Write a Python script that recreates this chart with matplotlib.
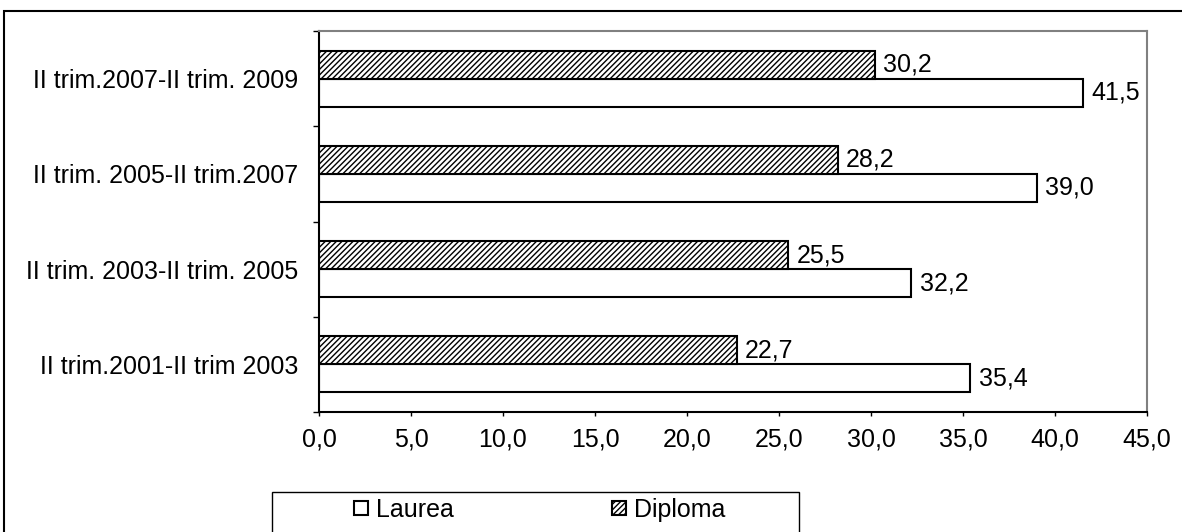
import numpy as np
import matplotlib.pyplot as plt
from matplotlib.patches import Rectangle

plt.rcParams['font.family'] = ['Liberation Sans', 'DejaVu Sans']
plt.rcParams['hatch.linewidth'] = 1.0

periodi = ['II trim.2001-II trim 2003', 'II trim. 2003-II trim. 2005',
           'II trim. 2005-II trim.2007', 'II trim.2007-II trim. 2009']
laurea = [35.4, 32.2, 39.0, 41.5]
diploma = [22.7, 25.5, 28.2, 30.2]
xticks = [0, 5, 10, 15, 20, 25, 30, 35, 40, 45]

FS = 18
W, H = 1182, 532

fig = plt.figure(figsize=(W/100, H/100), dpi=100)
ax = fig.add_axes([319/W, 1-412/H, 828/W, 381/H])

y = np.arange(len(periodi))
h = 0.295
bl = ax.barh(y - h/2, laurea, height=h, color='white', edgecolor='black', lw=1.5, label='Laurea')
bd = ax.barh(y + h/2, diploma, height=h, color='white', edgecolor='black', lw=1.5,
             hatch='//////', label='Diploma')

for yy, v in zip(y, laurea):
    ax.text(v + 0.45, yy - h/2, ('%.1f' % v).replace('.', ','), va='center', ha='left', fontsize=FS)
for yy, v in zip(y, diploma):
    ax.text(v + 0.45, yy + h/2, ('%.1f' % v).replace('.', ','), va='center', ha='left', fontsize=FS)

ax.set_xlim(0, 45)
ax.set_ylim(-0.5, 3.5)
ax.set_xticks(xticks)
ax.set_xticklabels([('%.1f' % t).replace('.', ',') for t in xticks], fontsize=FS)
ax.set_yticks(np.arange(-0.5, 4, 1), minor=False)
ax.set_yticklabels([])
ax.set_yticks(y, minor=True)
ax.set_yticklabels(periodi, minor=True, fontsize=FS)
ax.tick_params(axis='y', which='major', length=4.5, width=1, direction='out')
ax.tick_params(axis='y', which='minor', length=0, pad=15)
ax.tick_params(axis='x', length=3, width=1, direction='out', pad=8)

for s in ['top', 'right']:
    ax.spines[s].set_color('#808080')
    ax.spines[s].set_linewidth(1.5)
for s in ['left', 'bottom']:
    ax.spines[s].set_color('black')
    ax.spines[s].set_linewidth(1.5)

# legenda (cornice disegnata a parte)
leg = fig.legend(handles=[bl, bd], loc='center left', ncol=2,
                 bbox_to_anchor=(354/W, 1-510/H), frameon=False, fontsize=FS,
                 handlelength=0.55, handleheight=0.5, handletextpad=0.35,
                 columnspacing=6.3, borderpad=0, borderaxespad=0)
fig.add_artist(Rectangle((272/W, -0.1), (799-272)/W, 0.1 + 1-492/H, transform=fig.transFigure,
                         fill=False, edgecolor='black', lw=1))

# cornice esterna
fig.add_artist(Rectangle((4/W, -0.1), 1.2, 1.1 - 11/H, transform=fig.transFigure,
                         fill=False, edgecolor='black', lw=1.5))

fig.savefig('out.png', dpi=100)
